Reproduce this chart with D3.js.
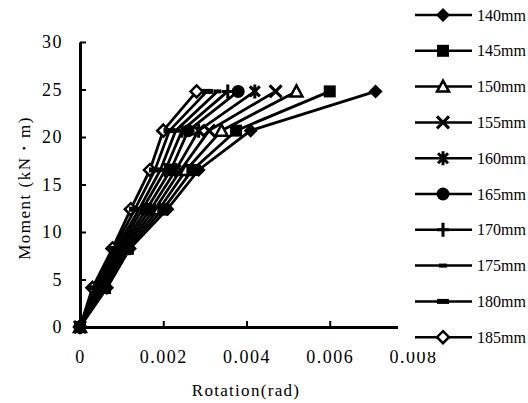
<!DOCTYPE html>
<html>
<head>
<meta charset="utf-8">
<script src="https://cdn.jsdelivr.net/npm/d3@7"></script>
<style>
body { margin: 0; background: #fff; }
svg { display: block; }
</style>
</head>
<body>
<div id="chart"></div>
<script>
// moment levels (kN·m), shared by every series
const moments = [0, 4.13, 8.27, 12.4, 16.53, 20.67, 24.8];

const names = ['140mm', '145mm', '150mm', '155mm', '160mm', '165mm', '170mm', '175mm', '180mm', '185mm'];

// rotation (rad), one row per series
const rot140 = [0, 0.00065, 0.0012, 0.0021, 0.00285, 0.0041, 0.0071];
const rot145 = [0, 0.0006, 0.00115, 0.002, 0.0027, 0.00375, 0.006];
const rot150 = [0, 0.00056, 0.0011, 0.0019, 0.00255, 0.0034, 0.0052];
const rot155 = [0, 0.00052, 0.00105, 0.0018, 0.00242, 0.0031, 0.0047];
const rot160 = [0, 0.00048, 0.001, 0.0017, 0.0023, 0.00285, 0.0042];
const rot165 = [0, 0.00045, 0.00096, 0.0016, 0.00218, 0.0026, 0.0038];
const rot170 = [0, 0.00042, 0.00092, 0.0015, 0.00205, 0.00245, 0.00355];
const rot175 = [0, 0.00038, 0.00087, 0.00142, 0.00193, 0.0023, 0.0033];
const rot180 = [0, 0.00034, 0.00082, 0.00132, 0.0018, 0.00215, 0.00305];
const rot185 = [0, 0.0003, 0.00078, 0.00122, 0.00168, 0.002, 0.0028];

const rotations = [rot140, rot145, rot150, rot155, rot160, rot165, rot170, rot175, rot180, rot185];
const markers = ['diamond', 'square', 'triangle', 'cross', 'asterisk', 'circle', 'plus', 'dash', 'bar', 'odiamond'];

const xTicks = [0, 0.002, 0.004, 0.006, 0.008];
const yTicks = [0, 5, 10, 15, 20, 25, 30];

const W = 528, H = 403;
const svg = d3.select('#chart').append('svg').attr('width', W).attr('height', H);

const x = d3.scaleLinear().domain([0, 0.008]).range([80, 413]);
const y = d3.scaleLinear().domain([0, 30]).range([327, 42]);

const serif = '"Liberation Serif", "DejaVu Serif", serif';

// axes
const xAxis = svg.append('g').attr('transform', `translate(0,${y(0)})`)
    .call(d3.axisBottom(x).tickValues(xTicks).tickSizeInner(-6).tickSizeOuter(0).tickPadding(23)
        .tickFormat(d => d === 0 ? '0' : d3.format('.3f')(d)));
const yAxis = svg.append('g').attr('transform', `translate(${x(0)},0)`)
    .call(d3.axisLeft(y).tickValues(yTicks).tickSizeInner(-6).tickSizeOuter(0).tickPadding(17));

[xAxis, yAxis].forEach(g => {
    g.select('.domain').attr('stroke', '#000').attr('stroke-width', 3);
    g.selectAll('.tick line').attr('stroke', '#000').attr('stroke-width', 2);
    g.selectAll('.tick text').attr('fill', '#000').style('font-family', serif)
        .style('font-size', '18px').style('letter-spacing', '1.5px');
});

svg.append('text')
    .attr('x', 246).attr('y', 396)
    .attr('text-anchor', 'middle')
    .style('font-family', serif).style('font-size', '17px').style('letter-spacing', '1.3px')
    .text('Rotation(rad)');

svg.append('text')
    .attr('transform', 'translate(30,188) rotate(-90)')
    .attr('text-anchor', 'middle')
    .style('font-family', serif).style('font-size', '17px').style('letter-spacing', '1.5px')
    .text('Moment (kN\u30FBm)');

function drawMarker(g, type) {
    if (type === 'diamond') {
        g.append('path').attr('d', 'M0,-7L7,0L0,7L-7,0Z').attr('fill', '#000');
    } else if (type === 'square') {
        g.append('rect').attr('x', -6).attr('y', -6).attr('width', 12).attr('height', 12).attr('fill', '#000');
    } else if (type === 'triangle') {
        g.append('path').attr('d', 'M0,-6L6,5L-6,5Z').attr('fill', '#fff').attr('stroke', '#000').attr('stroke-width', 2.5);
    } else if (type === 'cross') {
        g.append('path').attr('d', 'M-6,-6L6,6M-6,6L6,-6').attr('stroke', '#000').attr('stroke-width', 3);
    } else if (type === 'asterisk') {
        g.append('path').attr('d', 'M-5,-5L5,5M-5,5L5,-5M0,-7L0,7').attr('stroke', '#000').attr('stroke-width', 3);
    } else if (type === 'circle') {
        g.append('circle').attr('r', 6.5).attr('fill', '#000');
    } else if (type === 'plus') {
        g.append('path').attr('d', 'M0,-7L0,7M-6,0L6,0').attr('stroke', '#000').attr('stroke-width', 3);
    } else if (type === 'dash') {
        g.append('rect').attr('x', -4).attr('y', -2).attr('width', 8).attr('height', 4).attr('fill', '#000');
    } else if (type === 'bar') {
        g.append('rect').attr('x', -6).attr('y', -2.5).attr('width', 12).attr('height', 5).attr('fill', '#000');
    } else if (type === 'odiamond') {
        g.append('path').attr('d', 'M0,-6L6,0L0,6L-6,0Z').attr('fill', '#fff').attr('stroke', '#000').attr('stroke-width', 2.5);
    }
}

const line = d3.line().x(d => x(d[0])).y(d => y(d[1]));

// last series first, so the 140mm curve ends up on top
for (let i = rotations.length - 1; i >= 0; i--) {
    const pts = rotations[i].map((r, j) => [r, moments[j]]);
    const g = svg.append('g').attr('class', 'series');
    g.append('path').datum(pts)
        .attr('d', line)
        .attr('fill', 'none')
        .attr('stroke', '#000')
        .attr('stroke-width', 2.8);
    pts.forEach(p => {
        const m = g.append('g').attr('transform', `translate(${x(p[0])},${y(p[1])})`);
        drawMarker(m, markers[i]);
    });
}

// legend box covers the right end of the plot
const leg = svg.append('g');
leg.append('rect').attr('x', 398).attr('y', 0).attr('width', W - 398).attr('height', 352).attr('fill', '#fff');
names.forEach((n, i) => {
    const ly = 15 + i * 35.8;
    const row = leg.append('g').attr('transform', `translate(0,${ly})`);
    row.append('line').attr('x1', 415).attr('x2', 472).attr('stroke', '#000').attr('stroke-width', 2.5);
    const m = row.append('g').attr('transform', 'translate(443,0)');
    drawMarker(m, markers[i]);
    row.append('text')
        .attr('x', 477).attr('y', 0).attr('dy', '0.35em')
        .style('font-family', serif).style('font-size', '16px')
        .text(n);
});
</script>
</body>
</html>
